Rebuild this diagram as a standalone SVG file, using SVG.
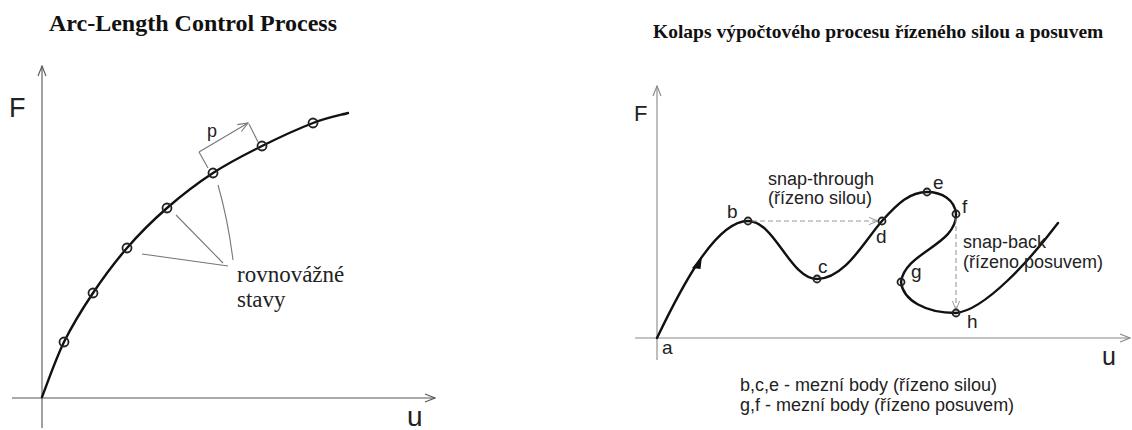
<svg xmlns="http://www.w3.org/2000/svg" width="1132" height="430" viewBox="0 0 1132 430">
<defs>
<style>
.title{font-family:"Liberation Serif","Times New Roman",serif;font-weight:bold;fill:#111}
.sans{font-family:"Liberation Sans",Arial,sans-serif;fill:#222}
.serif{font-family:"Liberation Serif","Times New Roman",serif;fill:#222}
.axisL{stroke:#555;stroke-width:1.1;fill:none}
.axisR{stroke:#888;stroke-width:1.1;fill:none}
.curve{stroke:#111;stroke-width:2.4;fill:none;stroke-linecap:round}
.pt{stroke:#222;stroke-width:1.8;fill:none}
.lead{stroke:#777;stroke-width:1.1;fill:none}
.dash{stroke:#999;stroke-width:1.1;fill:none;stroke-dasharray:5 3}
</style>
<marker id="openL" viewBox="0 0 12 10" refX="11" refY="5" markerWidth="12" markerHeight="10" markerUnits="userSpaceOnUse" orient="auto">
<path d="M1,1 L11,5 L1,9" fill="none" stroke="#555" stroke-width="1.1"/>
</marker>
<marker id="openR" viewBox="0 0 12 10" refX="11" refY="5" markerWidth="12" markerHeight="10" markerUnits="userSpaceOnUse" orient="auto">
<path d="M1,1 L11,5 L1,9" fill="none" stroke="#888" stroke-width="1.1"/>
</marker>
<marker id="openP" viewBox="0 0 12 10" refX="11" refY="5" markerWidth="12" markerHeight="10" markerUnits="userSpaceOnUse" orient="auto">
<path d="M1,1 L11,5 L1,9" fill="none" stroke="#777" stroke-width="1.1"/>
</marker>
<marker id="openD" viewBox="0 0 12 10" refX="11" refY="5" markerWidth="11" markerHeight="9" markerUnits="userSpaceOnUse" orient="auto">
<path d="M1,1 L11,5 L1,9" fill="none" stroke="#999" stroke-width="1.1"/>
</marker>
</defs>
<rect width="1132" height="430" fill="#fff"/>

<g id="left-panel">
<text class="title" x="49" y="31" font-size="24">Arc-Length Control Process</text>
<g id="left-axes">
<line class="axisL" x1="42" y1="428" x2="42" y2="66" marker-end="url(#openL)"/>
<line class="axisL" x1="12" y1="398" x2="435" y2="398" marker-end="url(#openL)"/>
<text class="sans" x="9" y="117" font-size="27">F</text>
<text class="sans" x="407" y="426" font-size="28">u</text>
</g>
<g id="left-curve">
<path class="curve" d="M42,397 C45.7,387.8 55.5,359.3 64,342 C72.5,324.7 82.5,308.7 93,293 C103.5,277.3 114.7,262.2 127,248 C139.3,233.8 152.7,220.5 167,208 C181.3,195.5 197.2,183.3 213,173 C228.8,162.7 245.3,154.3 262,146 C278.7,137.7 298.7,128.5 313,123 C327.3,117.5 342.2,114.7 348,113"/>
</g>
<g id="left-points">
<circle class="pt" cx="64" cy="342" r="4.5"/>
<circle class="pt" cx="93" cy="293" r="4.5"/>
<circle class="pt" cx="127" cy="248" r="4.5"/>
<circle class="pt" cx="167" cy="208" r="4.5"/>
<circle class="pt" cx="213" cy="173" r="4.5"/>
<circle class="pt" cx="262" cy="146" r="4.5"/>
<circle class="pt" cx="313" cy="123" r="4.5"/>
</g>
<g id="arc-length-p">
<line class="lead" x1="208" y1="168" x2="199" y2="152"/>
<line class="lead" x1="258" y1="142" x2="249" y2="124"/>
<line class="lead" x1="199" y1="152" x2="248" y2="123" marker-end="url(#openP)"/>
<text class="sans" x="207" y="137" font-size="18" fill="#333">p</text>
</g>
<g id="equilibrium-label">
<line class="lead" x1="142" y1="254" x2="228" y2="266"/>
<line class="lead" x1="176" y1="215" x2="223" y2="263"/>
<path class="lead" d="M218,185 Q228,220 233,260"/>
<text class="serif" x="237" y="282" font-size="23">rovnovážné</text>
<text class="serif" x="237" y="307" font-size="23">stavy</text>
</g>
</g>

<g id="right-panel">
<text class="title" x="653" y="38" font-size="19.5">Kolaps výpočtového procesu řízeného silou a posuvem</text>
<g id="right-axes">
<line class="axisR" x1="657" y1="360" x2="657" y2="86" marker-end="url(#openR)"/>
<line class="axisR" x1="635" y1="338" x2="1130" y2="338" marker-end="url(#openR)"/>
<text class="sans" x="634" y="121" font-size="22">F</text>
<text class="sans" x="1102" y="365" font-size="25">u</text>
</g>
<g id="right-curve">
<path class="curve" stroke-width="2.1" d="M657,338 C680,290 715,221 748,221 C775,221 790,279 817,279 C845,279 865,240 882,221 C898,203 910,192 927,192 C942,192 955,200 956,214 C957,245 905,252 901,282 C903,300 925,313 956,313 C985,310 1030,260 1058,223"/>
<path d="M692,268 L702,256 L700.5,269 Z" fill="#111"/>
</g>
<g id="snap-connectors">
<line class="dash" x1="752" y1="221" x2="878" y2="221" marker-end="url(#openD)"/>
<line class="dash" x1="956" y1="218" x2="956" y2="310" marker-end="url(#openD)"/>
</g>
<g id="point-b"><circle class="pt" cx="748" cy="221" r="3.5" stroke-width="1.6"/><text class="sans" x="727" y="218" font-size="19">b</text></g>
<g id="point-c"><circle class="pt" cx="817" cy="279" r="3.5" stroke-width="1.6"/><text class="sans" x="818" y="273" font-size="19">c</text></g>
<g id="point-d"><circle class="pt" cx="882" cy="221" r="3.5" stroke-width="1.6"/><text class="sans" x="876" y="243" font-size="19">d</text></g>
<g id="point-e"><circle class="pt" cx="927" cy="192" r="3.5" stroke-width="1.6"/><text class="sans" x="933" y="189" font-size="19">e</text></g>
<g id="point-f"><circle class="pt" cx="956" cy="214" r="3.5" stroke-width="1.6"/><text class="sans" x="962" y="213" font-size="19">f</text></g>
<g id="point-g"><circle class="pt" cx="901" cy="282" r="3.5" stroke-width="1.6"/><text class="sans" x="911" y="278" font-size="19">g</text></g>
<g id="point-h"><circle class="pt" cx="956" cy="313" r="3.5" stroke-width="1.6"/><text class="sans" x="967" y="328" font-size="19">h</text></g>
<text class="sans" x="662" y="354" font-size="19">a</text>
<g id="snap-labels">
<text class="sans" x="768" y="185" font-size="18" fill="#333">snap-through</text>
<text class="sans" x="768" y="204" font-size="18" fill="#333">(řízeno silou)</text>
<text class="sans" x="963" y="248" font-size="18" fill="#333">snap-back</text>
<text class="sans" x="963" y="268" font-size="18" fill="#333">(řízeno posuvem)</text>
</g>
<g id="legend">
<text class="sans" x="740" y="391" font-size="18" fill="#333">b,c,e - mezní body (řízeno silou)</text>
<text class="sans" x="740" y="411" font-size="18" fill="#333">g,f - mezní body (řízeno posuvem)</text>
</g>
</g>
</svg>
